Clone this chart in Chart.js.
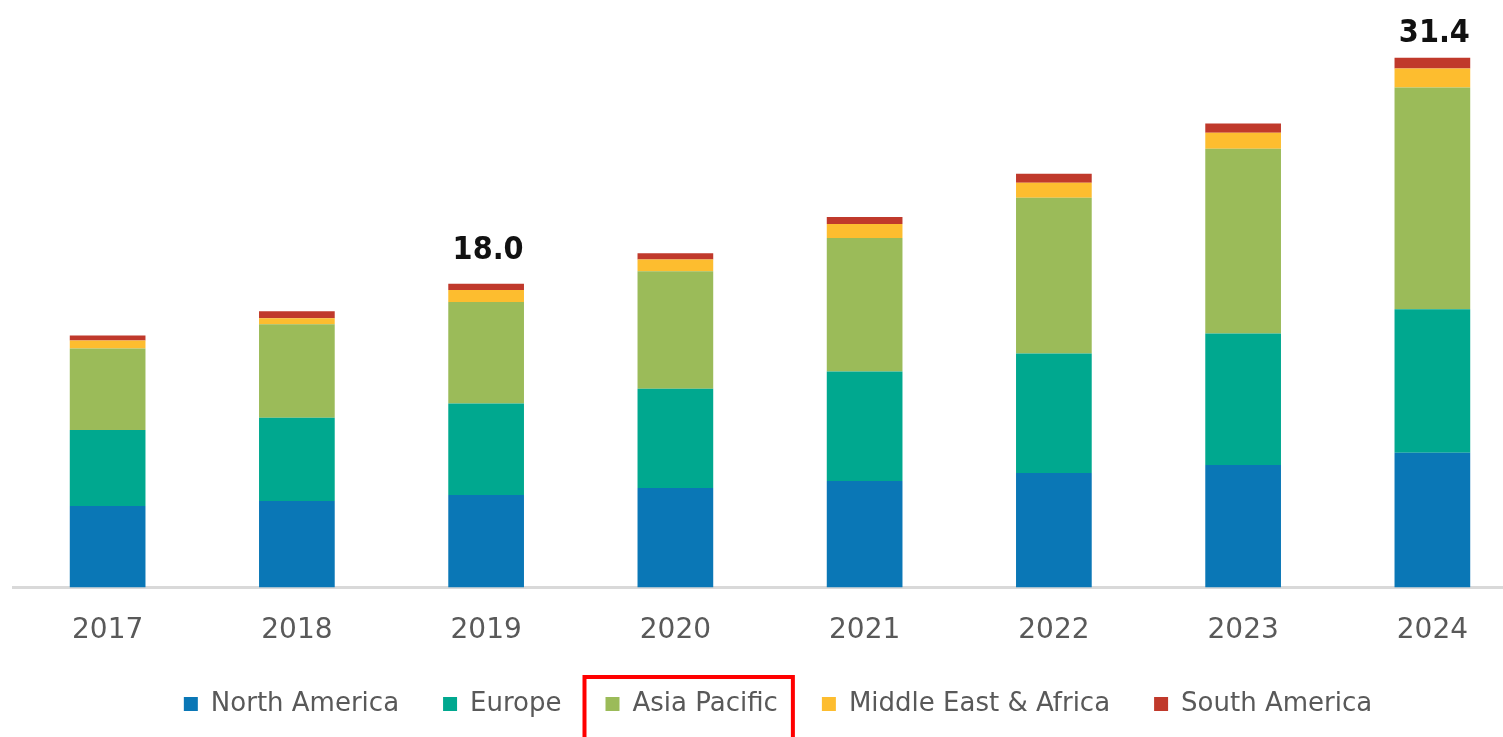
<!DOCTYPE html>
<html>
<head>
<meta charset="utf-8">
<script src="https://cdn.jsdelivr.net/npm/chart.js@4.4.1/dist/chart.umd.min.js"></script>
<style>
  html, body { margin: 0; padding: 0; background: #ffffff; overflow: hidden; }
  #wrap { position: absolute; left: 0; top: 0; width: 1565px; height: 737px; }
</style>
</head>
<body>
<div id="wrap"><canvas id="c" width="1565" height="737"></canvas></div>
<script>
const years = ['2017', '2018', '2019', '2020', '2021', '2022', '2023', '2024'];
const northAmerica = [4.82, 5.12, 5.48, 5.89, 6.31, 6.79, 7.26, 7.98];
const europe       = [4.52, 4.94, 5.42, 5.89, 6.49, 7.08, 7.80, 8.51];
const asiaPacific  = [4.82, 5.54, 6.03, 6.96, 7.92, 9.23, 10.95, 13.15];
const middleEastAfrica = [0.48, 0.36, 0.71, 0.71, 0.83, 0.89, 0.95, 1.13];
const southAmerica = [0.30, 0.42, 0.36, 0.36, 0.42, 0.54, 0.54, 0.63];
const labeledYears = ['2019', '2024'];

const seriesNames = ['North America', 'Europe', 'Asia Pacific', 'Middle East & Africa', 'South America'];
const seriesData = [northAmerica, europe, asiaPacific, middleEastAfrica, southAmerica];
const seriesColors = ['#0a77b6', '#00a88f', '#9bbb59', '#fdbd2f', '#c0392b'];

const totalsPlugin = {
  id: 'totals',
  afterDatasetsDraw(chart) {
    const ctx = chart.ctx;
    const y = chart.scales.y;
    const x = chart.scales.x;
    ctx.save();
    ctx.font = "bold 32px 'DejaVu Sans Condensed', 'DejaVu Sans', sans-serif";
    ctx.fillStyle = '#111111';
    ctx.textAlign = 'center';
    ctx.textBaseline = 'alphabetic';
    labeledYears.forEach(yr => {
      const i = years.indexOf(yr);
      let total = 0;
      seriesData.forEach(s => total += s[i]);
      const top = y.getPixelForValue(total);
      const by = Math.max(top - 25, 42);
      ctx.fillText(total.toFixed(1), x.getPixelForValue(i) + 2, by);
    });
    ctx.restore();
  }
};

const legendShiftPlugin = {
  id: 'legendShift',
  afterLayout(chart) {
    const lg = chart.legend;
    if (!lg) return;
    lg.left += 8;
    lg.right += 8;
  }
};

const highlightPlugin = {
  id: 'highlight',
  afterDraw(chart) {
    const lg = chart.legend;
    if (!lg || !lg.legendHitBoxes || !lg.legendHitBoxes[2]) return;
    const hb = lg.legendHitBoxes[2];
    const ctx = chart.ctx;
    ctx.save();
    ctx.strokeStyle = '#ff0000';
    ctx.lineWidth = 4;
    ctx.strokeRect(hb.left - 21, hb.top - 14, hb.width + 36, 80);
    ctx.restore();
  }
};

new Chart(document.getElementById('c'), {
  type: 'bar',
  data: {
    labels: years,
    datasets: seriesNames.map((n, k) => ({
      label: n,
      data: seriesData[k],
      backgroundColor: seriesColors[k],
      borderWidth: 0,
      categoryPercentage: 1.0,
      barPercentage: 0.4
    }))
  },
  options: {
    responsive: false,
    animation: false,
    layout: { padding: { top: 14, left: 13, right: 38, bottom: 10 } },
    scales: {
      x: {
        stacked: true,
        grid: { display: false, drawTicks: false },
        border: { display: true, color: '#d9d9d9', width: 3 },
        ticks: { color: '#595959', font: { family: "'DejaVu Sans', sans-serif", size: 28 }, padding: 27 },
        afterFit(scale) { scale.height = scale.height - 28; }
      },
      y: {
        stacked: true,
        display: false,
        min: 0,
        max: 34
      }
    },
    plugins: {
      legend: {
        position: 'bottom',
        labels: {
          boxWidth: 14,
          boxHeight: 14,
          padding: 44,
          color: '#595959',
          font: { family: "'DejaVu Sans', sans-serif", size: 26 }
        }
      },
      tooltip: { enabled: false }
    }
  },
  plugins: [legendShiftPlugin, totalsPlugin, highlightPlugin]
});
</script>
</body>
</html>
